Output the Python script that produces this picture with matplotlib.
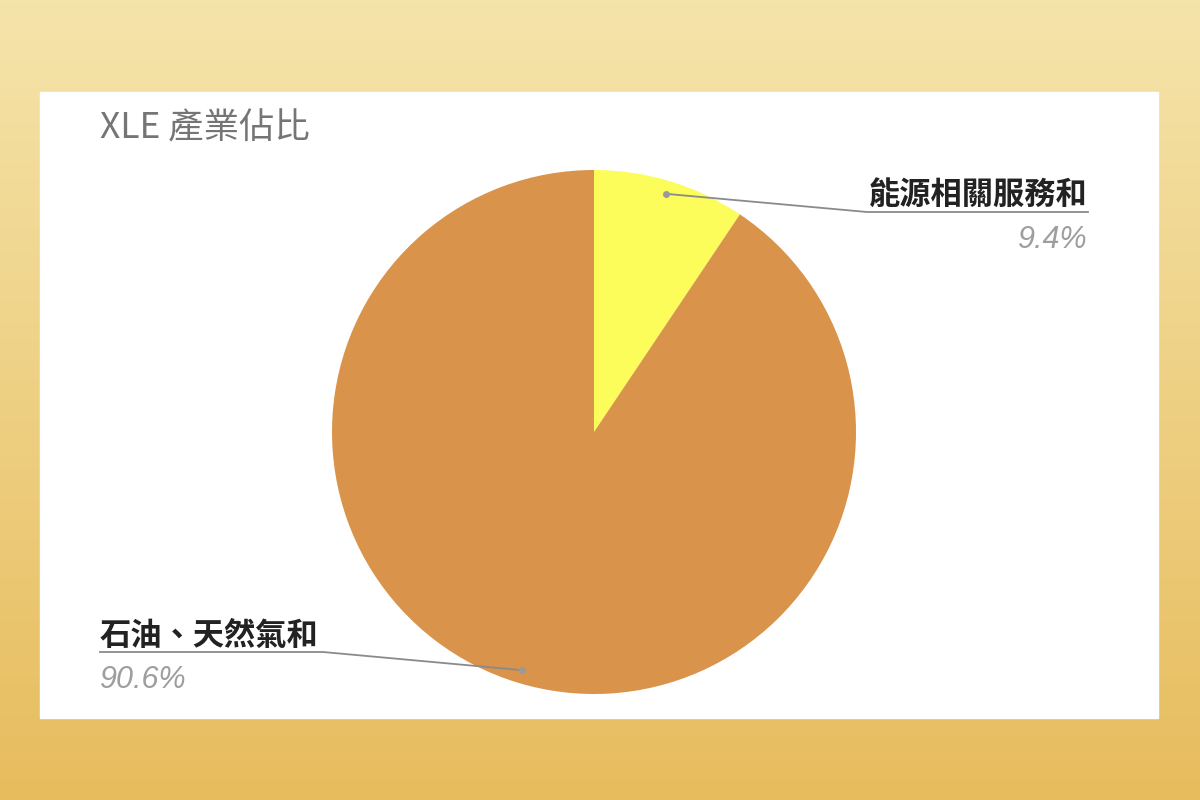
import numpy as np
import matplotlib.pyplot as plt
from matplotlib.colors import LinearSegmentedColormap

plt.rcParams['font.family'] = ['Noto Sans CJK TC', 'DejaVu Sans']

# data
title = 'XLE 產業佔比'
labels = ['能源相關服務和', '石油、天然氣和']
shares = [9.4, 90.6]
colors = ['#FCFC5A', '#D9934A']

W, H = 1200, 800
fig = plt.figure(figsize=(W / 100, H / 100), dpi=100)

# gradient backdrop
bg = fig.add_axes([0, 0, 1, 1])
cmap = LinearSegmentedColormap.from_list('gold', ['#F5E4AA', '#E7BC5D'])
bg.imshow(np.linspace(0, 1, 256).reshape(-1, 1), aspect='auto', cmap=cmap,
          extent=[0, W, H, 0])
bg.set_xlim(0, W)
bg.set_ylim(H, 0)
bg.axis('off')

# white panel
px0, py0, px1, py1 = 40, 92, 1158, 718
bg.add_patch(plt.Rectangle((px0, py0), px1 - px0, py1 - py0, color='white', zorder=2))

# pie, placed by pixel box
cx, cy, R = 594, 432, 262
ax = fig.add_axes([(cx - R) / W, (H - cy - R) / H, 2 * R / W, 2 * R / H])
wedges, _ = ax.pie(shares, colors=colors, startangle=90, counterclock=False,
                   wedgeprops=dict(linewidth=0))
ax.set_xlim(-1, 1)
ax.set_ylim(-1, 1)
ax.set_aspect('equal')
ax.axis('off')

# overlay for labels in pixel coords
ov = fig.add_axes([0, 0, 1, 1])
ov.set_xlim(0, W)
ov.set_ylim(H, 0)
ov.axis('off')

ov.text(100, 139, title, fontsize=25.5, color='#757575', ha='left', va='baseline')

# label layout: (text x, ha, underline y, elbow x, end x)
layout = [
    dict(tx=1088, ha='right', uy=212, elbow=867, end=1088),
    dict(tx=100, ha='left', uy=652, elbow=323, end=100),
]
for w, lab, pct, L in zip(wedges, labels, shares, layout):
    mid = np.deg2rad((w.theta1 + w.theta2) / 2)
    dx = cx + 0.95 * R * np.cos(mid)
    dy = cy - 0.95 * R * np.sin(mid)
    ov.plot([dx, L['elbow'], L['end']], [dy, L['uy'], L['uy']], color='#8a8a8a', lw=1.3)
    ov.plot([dx], [dy], 'o', color='#9a9a9a', ms=4)
    ov.text(L['tx'], L['uy'] - 7, lab, fontsize=22.5, fontweight='bold', color='#222222',
            ha=L['ha'], va='baseline')
    ov.text(L['tx'], L['uy'] + 36, f'{pct}%', fontsize=22, style='italic',
            color='#9E9E9E', ha=L['ha'], va='baseline',
            family=['Liberation Sans', 'DejaVu Sans'])

fig.savefig('out.png', dpi=100)
